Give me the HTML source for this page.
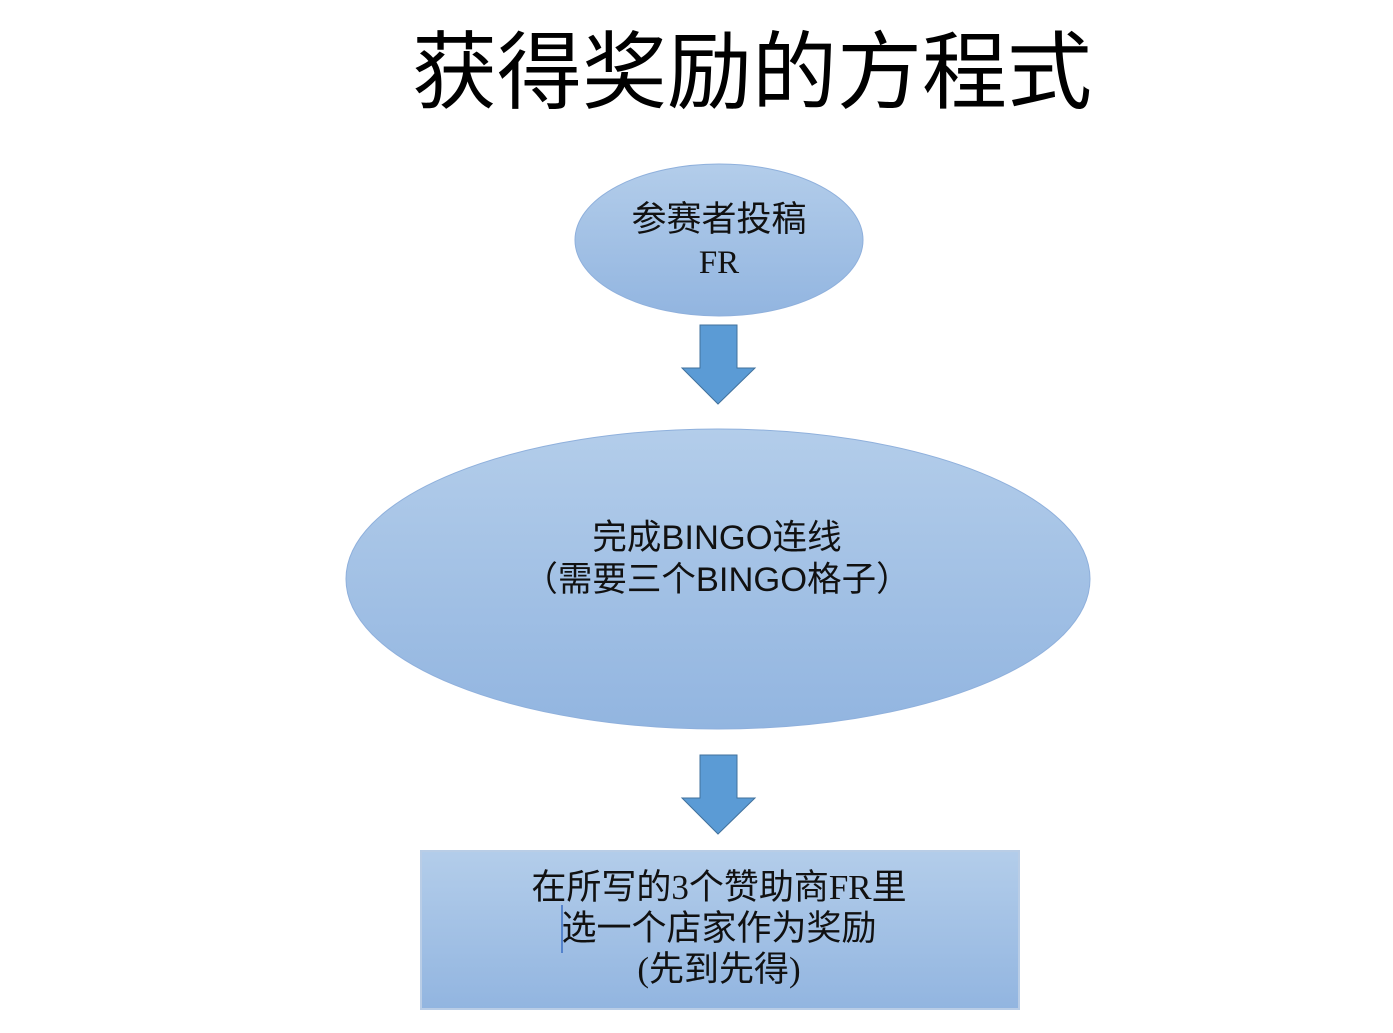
<!DOCTYPE html>
<html><head><meta charset="utf-8"><style>
html,body{margin:0;padding:0;background:#fff;}
svg{display:block;}
</style></head><body>
<svg width="1393" height="1033" viewBox="0 0 1393 1033" xmlns="http://www.w3.org/2000/svg">
<defs>
<linearGradient id="g" x1="0" y1="0" x2="0" y2="1">
<stop offset="0" stop-color="#b3cdea"/><stop offset="1" stop-color="#92b5e0"/>
</linearGradient>
</defs>
<text x="752" y="102" text-anchor="middle" font-family="'Noto Sans CJK SC',sans-serif" font-size="85" fill="#000">获得奖励的方程式</text>
<ellipse cx="719" cy="240" rx="144" ry="76" fill="url(#g)" stroke="#8fb0dc" stroke-width="1"/>
<text x="719" y="231" text-anchor="middle" font-family="'Noto Sans CJK SC',sans-serif" font-size="35" fill="#111">参赛者投稿</text>
<text x="719" y="273" text-anchor="middle" font-family="'Liberation Serif',serif" font-size="33" fill="#111">FR</text>
<polygon points="700,325 737,325 737,368 755,368 718,404 682,368 700,368" fill="#5b9bd5" stroke="#41719c" stroke-width="1"/>
<ellipse cx="718" cy="579" rx="372" ry="150" fill="url(#g)" stroke="#8fb0dc" stroke-width="1"/>
<text x="717" y="549" text-anchor="middle" font-family="'Liberation Sans','Noto Sans CJK SC',sans-serif" font-size="34.5" fill="#111">完成BINGO连线</text>
<text x="717" y="591" text-anchor="middle" font-family="'Liberation Sans','Noto Sans CJK SC',sans-serif" font-size="34.5" fill="#111">（需要三个BINGO格子）</text>
<polygon points="700,755 737,755 737,798 755,798 718,834 682,798 700,798" fill="#5b9bd5" stroke="#41719c" stroke-width="1"/>
<rect x="421" y="851" width="598" height="158" fill="url(#g)" stroke="#b9cde6" stroke-width="2"/>
<text x="719" y="899" text-anchor="middle" font-family="'Liberation Serif','Noto Sans CJK SC',serif" font-size="35" fill="#111">在所写的3个赞助商FR里</text>
<text x="719" y="940" text-anchor="middle" font-family="'Liberation Serif','Noto Sans CJK SC',serif" font-size="35" fill="#111">选一个店家作为奖励</text>
<text x="719" y="981" text-anchor="middle" font-family="'Liberation Serif','Noto Sans CJK SC',serif" font-size="35" fill="#111">(先到先得)</text>
<line x1="562" y1="905" x2="562" y2="953" stroke="#3a6fc4" stroke-width="1.5"/>
</svg>
</body></html>
